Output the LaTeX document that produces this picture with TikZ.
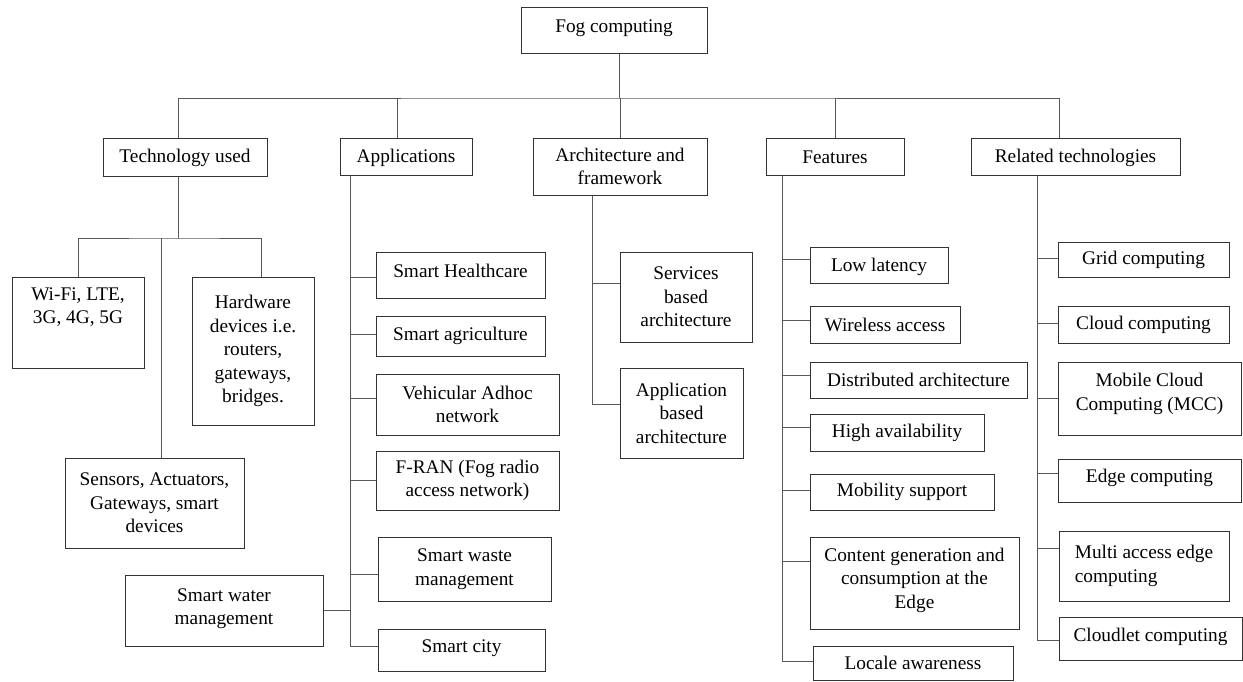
\documentclass[tikz,border=0pt]{standalone}
\usepackage{fontspec}
\setmainfont{Liberation Serif}
\newcommand{\upby}[2]{\raisebox{#1}[\height][\depth]{#2}}
\newcommand{\mylines}[1]{\begin{tabular}{@{}c@{}}#1\end{tabular}}
\begin{document}
\begin{tikzpicture}[x=1pt,y=-1pt,
  box/.style={draw=black!80, line width=1pt, inner sep=0pt, align=center,
    font=\fontsize{19.3}{23.5}\selectfont},
  sz/.style 2 args={minimum width=#1pt, minimum height=#2pt},
  conn/.style={draw=black!65, line width=1pt}]
\fill[white] (0,0) rectangle (1243,681);
\useasboundingbox (0,0) rectangle (1243,681);

% root and first level
\node[box, sz={186}{46}] (fog) at (614,30) {\upby{2pt}{Fog computing}};
\node[box, sz={164}{38}] (tech) at (185,157) {\upby{-1pt}{Technology used}};
\node[box, sz={132}{37}] (apps) at (406,156.5) {\upby{-1pt}{Applications}};
\node[box, sz={174}{57}] (arch) at (620,166.5) {Architecture and\\framework};
\node[box, sz={138}{37}] (feat) at (835,156.5) {\upby{-1pt}{Features}};
\node[box, sz={209}{37}] (rel) at (1075.5,156.5) {\upby{-1pt}{Related technologies}};

\coordinate (bus) at (619,98);
\draw[conn] ([xshift=5pt]fog.south) -- (bus);
\draw[conn] ([xshift=-7pt]tech.north) |- (bus) -| ([xshift=-16.5pt]rel.north);
\draw[conn] ([xshift=-9pt]apps.north) -- ++(0,-40);
\draw[conn] (arch.north) -- ++(0,-40);
\draw[conn] (feat.north) -- ++(0,-40);

% technology used
\node[box, sz={132}{91}] (wifi) at (78,322.5) {\upby{15pt}{\mylines{Wi-Fi, LTE,\\3G, 4G, 5G}}};
\node[box, sz={122}{148}] (hw) at (253,351) {Hardware\\devices i.e.\\routers,\\gateways,\\bridges.};
\node[box, sz={179}{90}] (sens) at (154.5,503) {Sensors, Actuators,\\Gateways, smart\\devices};
\coordinate (tj) at (178,238);
\draw[conn] ([xshift=-7pt]tech.south) -- (tj);
\draw[conn] (wifi.north) |- (tj) -| ([xshift=8pt]hw.north);
\draw[conn] ([xshift=6.5pt]sens.north) -- ++(0,-220);

% applications
\node[box, sz={169}{46}] (sh) at (460.5,275) {\upby{4pt}{Smart Healthcare}};
\node[box, sz={169}{40}] (sa) at (460.5,336) {Smart agriculture};
\node[box, sz={183}{61}] (va) at (467.5,404.5) {Vehicular Adhoc\\network};
\node[box, sz={183}{59}] (fr) at (467.5,480.5) {F-RAN (Fog radio\\access network)};
\node[box, sz={173}{64}] (swm) at (464.5,569) {Smart waste\\management};
\node[box, sz={167}{42}] (sc) at (461.5,650) {\upby{1.5pt}{Smart city}};
\node[box, sz={198}{71}] (swa) at (224,610.5) {\upby{2pt}{\mylines{Smart water\\management}}};
\coordinate (aend) at (350,646);
\draw[conn] ([xshift=-56pt]apps.south) -- (aend);
\draw[conn] ([yshift=-2pt]sh.west) -- ++(-26,0);
\draw[conn] ([yshift=2pt]sa.west) -- ++(-26,0);
\draw[conn] ([yshift=6.5pt]va.west) -- ++(-26,0);
\draw[conn] (fr.west) -- ++(-26,0);
\draw[conn] ([yshift=-5pt]swm.west) -- ++(-28,0);
\draw[conn] ([yshift=4pt]sc.west) -- (aend);
\draw[conn] (swa.east) -- ++(26,0);

% architecture
\node[box, sz={132}{90}] (serv) at (686,297) {Services\\based\\architecture};
\node[box, sz={123}{90}] (appb) at (681.5,413) {Application\\based\\architecture};
\coordinate (rend) at (592,404);
\draw[conn] ([xshift=-28pt]arch.south) -- (rend);
\draw[conn] ([yshift=14pt]serv.west) -- ++(-28,0);
\draw[conn] ([yshift=9pt]appb.west) -- (rend);

% features
\node[box, sz={138}{36}] (ll) at (879,265) {\upby{-1.5pt}{Low latency}};
\node[box, sz={150}{37}] (wa) at (885,324.5) {Wireless access};
\node[box, sz={217}{36}] (da) at (918.5,380) {Distributed architecture};
\node[box, sz={174}{37}] (ha) at (897,432.5) {High availability};
\node[box, sz={184}{36}] (ms) at (902,492) {Mobility support};
\node[box, sz={209}{92}] (cg) at (914.5,583) {\upby{3pt}{\mylines{Content generation and\\consumption at the\\Edge}}};
\node[box, sz={200}{34}] (la) at (913,663) {Locale awareness};
\coordinate (fend) at (782,661);
\draw[conn] ([xshift=-53pt]feat.south) -- (fend);
\draw[conn] ([yshift=6pt]ll.west) -- ++(-28,0);
\draw[conn] ([yshift=4.5pt]wa.west) -- ++(-28,0);
\draw[conn] ([yshift=5pt]da.west) -- ++(-28,0);
\draw[conn] ([yshift=5.5pt]ha.west) -- ++(-28,0);
\draw[conn] ([yshift=2pt]ms.west) -- ++(-28,0);
\draw[conn] ([yshift=22pt]cg.west) -- ++(-28,0);
\draw[conn] ([yshift=2pt]la.west) -- (fend);

% related technologies
\node[box, sz={171}{35}] (gc) at (1143.5,259.5) {Grid computing};
\node[box, sz={171}{37}] (cc) at (1143.5,324.5) {Cloud computing};
\node[box, sz={183}{73}] (mcc) at (1149.5,398.5) {\upby{4.5pt}{\mylines{Mobile Cloud\\Computing (MCC)}}};
\node[box, sz={183}{43}] (ec) at (1149.5,480.5) {\upby{2.5pt}{Edge computing}};
\node[box, sz={170}{70}, align=left] (ma) at (1144,566) {Multi access edge\\computing};
\node[box, sz={183}{43}] (cl) at (1150.5,638.5) {\upby{2pt}{Cloudlet computing}};
\coordinate (tend) at (1037,640);
\draw[conn] ([xshift=-38.5pt]rel.south) -- (tend);
\draw[conn] ([yshift=1.5pt]gc.west) -- ++(-21,0);
\draw[conn] ([yshift=1.5pt]cc.west) -- ++(-21,0);
\draw[conn] (mcc.west) -- ++(-21,0);
\draw[conn] ([yshift=7.5pt]ec.west) -- ++(-21,0);
\draw[conn] ([yshift=18pt]ma.west) -- ++(-22,0);
\draw[conn] ([yshift=-1.5pt]cl.west) -- (tend);
\end{tikzpicture}
\end{document}
